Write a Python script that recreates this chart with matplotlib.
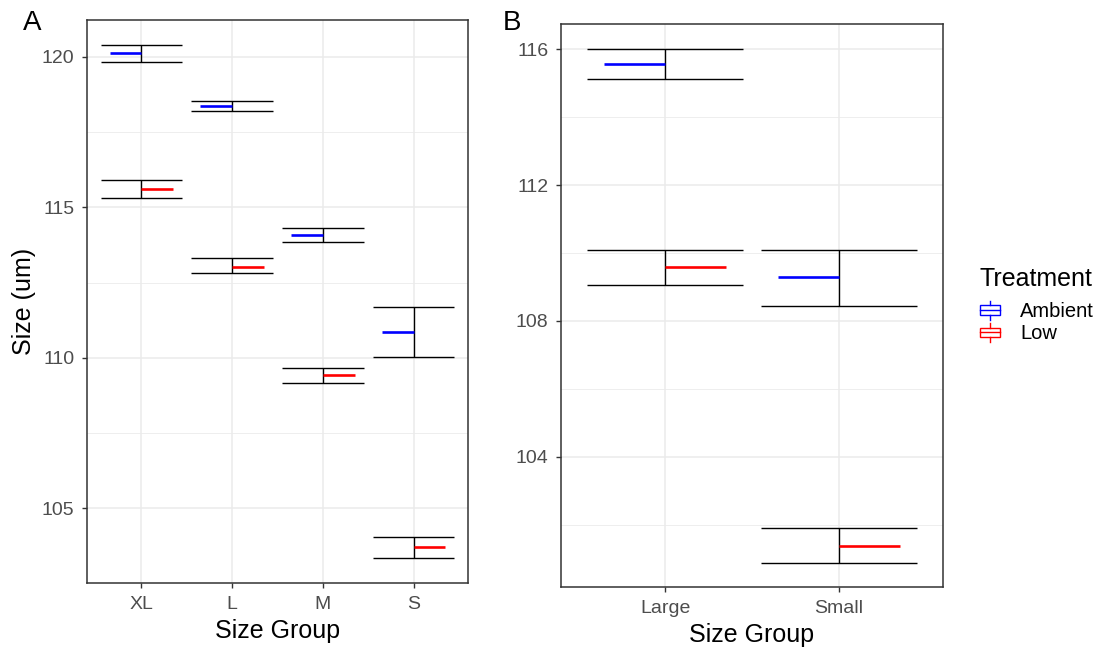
import matplotlib
matplotlib.use("Agg")
import matplotlib.pyplot as plt
from matplotlib.legend_handler import HandlerBase
from matplotlib.lines import Line2D
from matplotlib.patches import Rectangle
from matplotlib.ticker import MultipleLocator

plt.rcParams['font.family'] = ['Liberation Sans', 'DejaVu Sans']

# Panel A data (mean and error-bar limits per size group)
groups_a = ['XL', 'L', 'M', 'S']
amb_mean_a = [120.12, 118.38, 114.07, 110.84]
amb_lo_a = [119.84, 118.22, 113.85, 110.01]
amb_hi_a = [120.40, 118.55, 114.30, 111.68]
low_mean_a = [115.60, 113.03, 109.44, 103.70]
low_lo_a = [115.30, 112.83, 109.17, 103.35]
low_hi_a = [115.90, 113.31, 109.67, 104.05]

# Panel B data
groups_b = ['Large', 'Small']
amb_mean_b = [115.57, 109.28]
amb_lo_b = [115.11, 108.45]
amb_hi_b = [116.00, 110.08]
low_mean_b = [109.58, 101.37]
low_lo_b = [109.05, 100.87]
low_hi_b = [110.08, 101.91]

treatments = ['Ambient', 'Low']
colors = {'Ambient': 'blue', 'Low': 'red'}

grid_col = '#EBEBEB'
dark = '#333333'


class BoxKey(HandlerBase):
    # little boxplot glyph like the ggplot legend key
    def create_artists(self, legend, orig_handle, xd, yd, w, h, fontsize, trans):
        c = orig_handle.get_color()
        x0, y0 = -xd, -yd
        cx = x0 + w / 2
        bh = h * 0.5
        by = y0 + (h - bh) / 2
        rect = Rectangle((x0, by), w, bh, facecolor='white', edgecolor=c,
                         lw=1.0, transform=trans)
        med = Line2D([x0, x0 + w], [by + bh / 2] * 2, color=c, lw=1.0, transform=trans)
        wt = Line2D([cx, cx], [by + bh, y0 + h], color=c, lw=1.0, transform=trans)
        wb = Line2D([cx, cx], [y0, by], color=c, lw=1.0, transform=trans)
        return [rect, med, wt, wb]


def draw_panel(ax, groups, series, ylim, ystep):
    for tr, (mean, lo, hi) in series.items():
        for i in range(len(groups)):
            x = i + 1
            ax.hlines([lo[i], hi[i]], x - 0.45, x + 0.45, color='black', lw=1.0, zorder=3)
            ax.vlines(x, lo[i], hi[i], color='black', lw=1.0, zorder=3)
            if tr == 'Ambient':
                ax.hlines(mean[i], x - 0.35, x, color=colors[tr], lw=1.9, zorder=4)
            else:
                ax.hlines(mean[i], x, x + 0.35, color=colors[tr], lw=1.9, zorder=4)
    ax.set_xlim(0.4, len(groups) + 0.6)
    ax.set_ylim(*ylim)
    ax.set_xticks(range(1, len(groups) + 1))
    ax.set_xticklabels(groups)
    ax.yaxis.set_major_locator(MultipleLocator(ystep))
    ax.yaxis.set_minor_locator(MultipleLocator(ystep / 2))
    ax.grid(True, which='major', color=grid_col, lw=1.1, zorder=0)
    ax.grid(True, which='minor', axis='y', color=grid_col, lw=0.6, zorder=0)
    ax.set_axisbelow(True)
    ax.tick_params(which='major', labelsize=14, labelcolor='#4D4D4D', color=dark,
                   length=3.5, width=1.0)
    ax.tick_params(axis='x', pad=6)
    ax.tick_params(axis='y', pad=5.5)
    ax.tick_params(which='minor', length=0)
    for s in ax.spines.values():
        s.set_color(dark)
        s.set_linewidth(1.1)
    ax.set_xlabel('Size Group', fontsize=18, labelpad=4)


fig = plt.figure(figsize=(11.04, 6.49), dpi=100)
ax_a = fig.add_axes([0.0788, 0.1017, 0.3451, 0.8675])
ax_b = fig.add_axes([0.5082, 0.0955, 0.3460, 0.8675])

draw_panel(ax_a, groups_a,
           {'Ambient': (amb_mean_a, amb_lo_a, amb_hi_a),
            'Low': (low_mean_a, low_lo_a, low_hi_a)},
           (102.51, 121.23), 5)
draw_panel(ax_b, groups_b,
           {'Ambient': (amb_mean_b, amb_lo_b, amb_hi_b),
            'Low': (low_mean_b, low_lo_b, low_hi_b)},
           (100.17, 116.74), 4)

ax_a.set_ylabel('Size (um)', fontsize=18, labelpad=4)

fig.text(0.0208, 0.985, 'A', fontsize=20, va='top', ha='left')
fig.text(0.4556, 0.985, 'B', fontsize=20, va='top', ha='left')

handles = [Line2D([], [], color=colors[t]) for t in treatments]
leg = fig.legend(handles, treatments, title='Treatment', loc='center left',
                 bbox_to_anchor=(0.871, 0.53), frameon=False, fontsize=14.5,
                 title_fontsize=18, handler_map={Line2D: BoxKey()},
                 handlelength=1.0, handleheight=1.1, handletextpad=1.0,
                 labelspacing=0.08, alignment='left')
leg._legend_box.sep = 7

fig.savefig('out.png', dpi=100)
